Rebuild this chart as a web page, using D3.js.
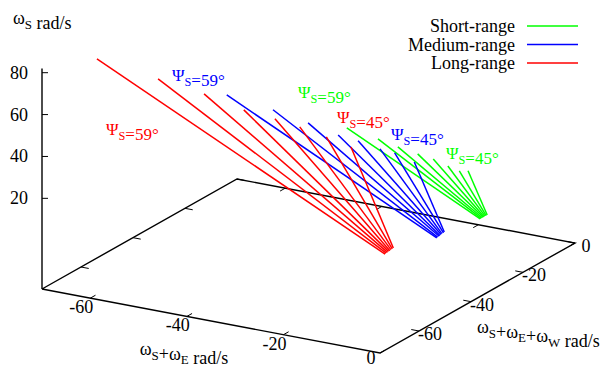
<!DOCTYPE html>
<html>
<head>
<meta charset="utf-8">
<script src="https://cdn.jsdelivr.net/npm/d3@7"></script>
<style>
  html, body { margin: 0; padding: 0; background: #fff; }
  svg, svg text { font-family: "Liberation Serif", "DejaVu Serif", "Times New Roman", Times, serif; }
</style>
</head>
<body>
<div id="chart"></div>
<script>
// gnuplot-style 3D fan plot, drawn with an affine projection of the base box.

const series = ["Short-range", "Medium-range", "Long-range"];
const psiAngles = [59, 45];

const xTicks = [-60, -40, -20, 0];
const yTicks = [-60, -40, -20, 0];
const zTicks = [20, 40, 60, 80];

// [ωS+ωE, ωS+ωE+ωW, ωS] at the top of each line and at its end
const shortTop = [
  [-19.1, -52.3, 60], [-14.1, -49.6, 55], [-11.7, -46.4, 50], [-9.0, -43.8, 46],
  [-7.5, -40.6, 42], [-5.6, -38.5, 38], [-4.2, -36.7, 35], [-4.6, -32.6, 32],
];
const shortEnd = [
  [-7.9, -21.8, 0], [-7.9, -21.4, 0], [-7.9, -21.0, 0], [-7.9, -20.6, 0],
  [-7.9, -20.3, 0], [-7.9, -19.9, 0], [-7.9, -19.5, 0], [-7.9, -19.1, 0],
];
const mediumTop = [
  [-41.0, -57.8, 70], [-33.2, -54.5, 64], [-27.6, -51.4, 58], [-22.5, -49.3, 53],
  [-20.1, -46.1, 49], [-16.8, -43.8, 45], [-15.7, -40.2, 41], [-12.5, -38.6, 37],
];
const mediumEnd = [
  [-9.4, -35.7, 0], [-9.5, -35.2, 0], [-9.5, -34.6, 0], [-9.6, -34.1, 0],
  [-9.7, -33.5, 0], [-9.8, -33.0, 0], [-9.8, -32.4, 0], [-9.9, -31.9, 0],
];
const longTop = [
  [-65.3, -62.6, 80], [-54.9, -58.4, 72], [-47.1, -55.2, 66], [-40.0, -53.1, 60],
  [-35.6, -49.3, 55], [-32.4, -45.7, 50], [-28.4, -42.9, 45], [-24.7, -40.3, 40],
];
const longEnd = [
  [-13.0, -48.9, 0], [-13.1, -48.3, 0], [-13.1, -47.8, 0], [-13.2, -47.2, 0],
  [-13.2, -46.7, 0], [-13.3, -46.1, 0], [-13.3, -45.6, 0], [-13.4, -45.0, 0],
];

const COLORS = { "Short-range": "#00ff00", "Medium-range": "#0000ff", "Long-range": "#ff0000" };

const W = 607, H = 368;
const X_RANGE = [-70, 0], Y_RANGE = [-75, 0], Z_BASE = -23.3, Z_TOP = 82;

// base box corner (xmin, ymin) and the screen vectors of the x / y edges
const ORIGIN = [42, 289];
const EX = [338, 64];
const EY = [195, -110];

const xScale = d3.scaleLinear().domain(X_RANGE).range([0, 1]);
const yScale = d3.scaleLinear().domain(Y_RANGE).range([0, 1]);
const zScale = d3.scaleLinear().domain([Z_BASE, 80]).range([0, 216.3]);

function project(x, y, z) {
  const u = xScale(x), v = yScale(y), h = zScale(z);
  return [ORIGIN[0] + u * EX[0] + v * EY[0], ORIGIN[1] + u * EX[1] + v * EY[1] - h];
}

const svg = d3.select("#chart").append("svg")
  .attr("width", W).attr("height", H)
  .attr("viewBox", `0 0 ${W} ${H}`);

const line = d3.line();

// text with subscripts, e.g. ωS
function rich(sel, parts, size) {
  parts.forEach((p) => {
    if (p.sub) {
      sel.append("tspan").attr("dy", 4.5).attr("font-size", size * 0.72).text(p.t);
      sel.append("tspan").attr("dy", -4.5).text("");
    } else {
      sel.append("tspan").text(p.t);
    }
  });
}

// ─── base box + z axis ────────────────────────────────────────────────
const [x0, x1] = X_RANGE, [y0, y1] = Y_RANGE;
const box = [[x0, y0], [x1, y0], [x1, y1], [x0, y1], [x0, y0]]
  .map(([x, y]) => project(x, y, Z_BASE));
const axes = svg.append("g").attr("stroke", "#000").attr("fill", "none");
axes.append("path").attr("d", line(box)).attr("stroke-width", 1.4);
axes.append("path")
  .attr("d", line([project(x0, y0, Z_BASE), project(x0, y0, Z_TOP)]))
  .attr("stroke-width", 1.4);

// ticks (mirrored on the back edges, as gnuplot does)
const X_TIC = 2.0, Y_TIC = 1.6;
const tickG = axes.append("g").attr("stroke-width", 1);
xTicks.forEach((t) => {
  tickG.append("path").attr("d", line([project(t, y0, Z_BASE), project(t, y0 + X_TIC, Z_BASE)]));
  tickG.append("path").attr("d", line([project(t, y1, Z_BASE), project(t, y1 - X_TIC, Z_BASE)]));
});
yTicks.forEach((t) => {
  tickG.append("path").attr("d", line([project(x1, t, Z_BASE), project(x1 - Y_TIC, t, Z_BASE)]));
  tickG.append("path").attr("d", line([project(x0, t, Z_BASE), project(x0 + Y_TIC, t, Z_BASE)]));
});
zTicks.forEach((t) => {
  const p = project(x0, y0, t);
  tickG.append("path").attr("d", line([p, [p[0] + 6, p[1]]]));
});

const FS = 18;
const labels = svg.append("g").attr("font-size", FS).attr("fill", "#000");
xTicks.forEach((t) => {
  const p = project(t, y0, Z_BASE);
  labels.append("text").attr("x", p[0] - 9).attr("y", Math.min(p[1] + 15, H - 4))
    .attr("text-anchor", "middle").text(t);
});
yTicks.forEach((t) => {
  const p = project(x1, t, Z_BASE);
  labels.append("text").attr("x", p[0] + 11).attr("y", p[1] + 9)
    .attr("text-anchor", "middle").text(t);
});
zTicks.forEach((t) => {
  const p = project(x0, y0, t);
  labels.append("text").attr("x", p[0] - 14).attr("y", p[1] + 6)
    .attr("text-anchor", "end").text(t);
});

// axis titles
rich(labels.append("text").attr("x", 13).attr("y", 24),
  [{ t: "ω" }, { t: "S", sub: true }, { t: " rad/s" }], FS);
rich(labels.append("text").attr("x", 184).attr("y", 355).attr("text-anchor", "middle"),
  [{ t: "ω" }, { t: "S", sub: true }, { t: "+ω" }, { t: "E", sub: true }, { t: " rad/s" }], FS);
rich(labels.append("text").attr("x", 477).attr("y", 333),
  [{ t: "ω" }, { t: "S", sub: true }, { t: "+ω" }, { t: "E", sub: true }, { t: "+ω" }, { t: "W", sub: true }, { t: " rad/s" }], FS);

// ─── data lines ───────────────────────────────────────────────────────
const seriesData = {
  "Short-range": d3.zip(shortTop, shortEnd),
  "Medium-range": d3.zip(mediumTop, mediumEnd),
  "Long-range": d3.zip(longTop, longEnd),
};
const dataG = svg.append("g").attr("fill", "none").attr("stroke-width", 1.5);
series.forEach((s) => {
  dataG.append("g").attr("stroke", COLORS[s])
    .selectAll("path").data(seriesData[s]).join("path")
    .attr("d", (seg) => line(seg.map((d) => project(d[0], d[1], d[2]))));
});

// ─── Ψ annotations ────────────────────────────────────────────────────
const PSI_FS = 17;
const PSI_POS = {
  "Long-range": [[106, 135], [337, 123]],
  "Medium-range": [[172, 81], [391, 140]],
  "Short-range": [[298, 98], [446, 159]],
};
const psiG = svg.append("g").attr("font-size", PSI_FS);
series.forEach((s) => {
  psiAngles.forEach((a, i) => {
    const [px, py] = PSI_POS[s][i];
    rich(psiG.append("text").attr("x", px).attr("y", py).attr("fill", COLORS[s]),
      [{ t: "Ψ" }, { t: "S", sub: true }, { t: `=${a}°` }], PSI_FS);
  });
});

// ─── legend ───────────────────────────────────────────────────────────
const legend = svg.append("g").attr("font-size", FS);
series.forEach((s, i) => {
  const cy = 26 + i * 18.5;
  legend.append("text").attr("x", 515).attr("y", cy + 6)
    .attr("text-anchor", "end").text(s);
  legend.append("line").attr("x1", 527).attr("x2", 578).attr("y1", cy).attr("y2", cy)
    .attr("stroke", COLORS[s]).attr("stroke-width", 1.5);
});
</script>
</body>
</html>
